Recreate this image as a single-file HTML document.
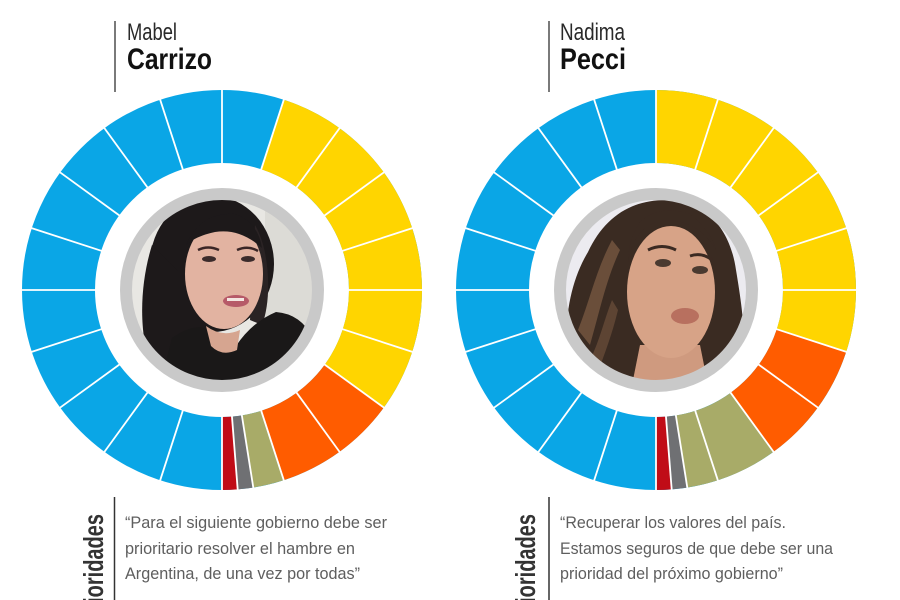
<!DOCTYPE html>
<html>
<head>
<meta charset="utf-8">
<style>
html,body{margin:0;padding:0;background:#fff;}
svg{display:block;}
text{font-family:"Liberation Sans",sans-serif;}
</style>
</head>
<body>
<svg width="900" height="600" viewBox="0 0 900 600" xmlns="http://www.w3.org/2000/svg">
<rect width="900" height="600" fill="#fff"/>
<defs>
  <clipPath id="cl"><circle cx="222" cy="290" r="91"/></clipPath>
  <clipPath id="cr"><circle cx="656" cy="290" r="91"/></clipPath>
</defs>

<!-- ============ LEFT DONUT ============ -->
<g transform="rotate(-90 222 290)" fill="none" stroke-width="73">
  <circle cx="222" cy="290" r="163.5" stroke="#0AA6E6"/>
  <circle cx="222" cy="290" r="163.5" stroke="#FFD500" stroke-dasharray="308.190 1027.301" stroke-dashoffset="-51.365"/>
  <circle cx="222" cy="290" r="163.5" stroke="#FF5C00" stroke-dasharray="102.730 1027.301" stroke-dashoffset="-359.555"/>
  <circle cx="222" cy="290" r="163.5" stroke="#A8AB68" stroke-dasharray="25.683 1027.301" stroke-dashoffset="-462.285"/>
  <circle cx="222" cy="290" r="163.5" stroke="#6F7073" stroke-dasharray="12.841 1027.301" stroke-dashoffset="-487.968"/>
  <circle cx="222" cy="290" r="163.5" stroke="#C00C17" stroke-dasharray="12.841 1027.301" stroke-dashoffset="-500.809"/>
</g>
<g transform="translate(222 290)" stroke="#fff" stroke-width="1.8">
  <line x1="0" y1="-124" x2="0" y2="-203" transform="rotate(0)"/>
  <line x1="0" y1="-124" x2="0" y2="-203" transform="rotate(18)"/>
  <line x1="0" y1="-124" x2="0" y2="-203" transform="rotate(36)"/>
  <line x1="0" y1="-124" x2="0" y2="-203" transform="rotate(54)"/>
  <line x1="0" y1="-124" x2="0" y2="-203" transform="rotate(72)"/>
  <line x1="0" y1="-124" x2="0" y2="-203" transform="rotate(90)"/>
  <line x1="0" y1="-124" x2="0" y2="-203" transform="rotate(108)"/>
  <line x1="0" y1="-124" x2="0" y2="-203" transform="rotate(126)"/>
  <line x1="0" y1="-124" x2="0" y2="-203" transform="rotate(144)"/>
  <line x1="0" y1="-124" x2="0" y2="-203" transform="rotate(162)"/>
  <line x1="0" y1="-124" x2="0" y2="-203" transform="rotate(171)"/>
  <line x1="0" y1="-124" x2="0" y2="-203" transform="rotate(175.5)"/>
  <line x1="0" y1="-124" x2="0" y2="-203" transform="rotate(180)"/>
  <line x1="0" y1="-124" x2="0" y2="-203" transform="rotate(198)"/>
  <line x1="0" y1="-124" x2="0" y2="-203" transform="rotate(216)"/>
  <line x1="0" y1="-124" x2="0" y2="-203" transform="rotate(234)"/>
  <line x1="0" y1="-124" x2="0" y2="-203" transform="rotate(252)"/>
  <line x1="0" y1="-124" x2="0" y2="-203" transform="rotate(270)"/>
  <line x1="0" y1="-124" x2="0" y2="-203" transform="rotate(288)"/>
  <line x1="0" y1="-124" x2="0" y2="-203" transform="rotate(306)"/>
  <line x1="0" y1="-124" x2="0" y2="-203" transform="rotate(324)"/>
  <line x1="0" y1="-124" x2="0" y2="-203" transform="rotate(342)"/>
</g>

<!-- left photo -->
<g clip-path="url(#cl)">
  <rect x="120" y="190" width="210" height="200" fill="#e8e7e3"/>
  <rect x="265" y="190" width="60" height="200" fill="#dcdbd6"/>
  <ellipse cx="212" cy="264" rx="62" ry="68" fill="#1d191a"/>
  <path d="M152,245 C138,290 138,345 158,385 L218,385 L208,300 Z" fill="#1d191a"/>
  <path d="M255,225 C270,250 272,300 262,325 L250,320 Z" fill="#2a2324"/>
  <path d="M160,385 L172,338 Q198,320 214,332 L236,346 Q252,322 276,312 Q302,314 314,340 L316,385 Z" fill="#1a1818"/>
  <ellipse cx="224" cy="274" rx="39" ry="55" fill="#e2b3a1"/>
  <path d="M186,245 Q200,212 235,214 Q258,222 262,248 Q240,228 215,232 Q196,236 186,245 Z" fill="#1d191a"/>
  <path d="M206,326 Q222,338 240,330 L237,350 Q222,357 211,346 Z" fill="#d6a590"/>
  <path d="M198,250 Q208,245 219,250" stroke="#3a2626" stroke-width="2.5" fill="none"/>
  <path d="M237,250 Q248,245 258,251" stroke="#3a2626" stroke-width="2.5" fill="none"/>
  <ellipse cx="209" cy="259" rx="7" ry="3" fill="#3b2b2b"/>
  <ellipse cx="248" cy="259" rx="7" ry="3" fill="#3b2b2b"/>
  <ellipse cx="236" cy="301" rx="13" ry="6" fill="#b65a68"/>
  <rect x="227" y="298" width="17" height="3" fill="#f3e6e0"/>
</g>
<circle cx="222" cy="290" r="96" fill="none" stroke="#c9c9c9" stroke-width="12"/>

<!-- ============ RIGHT DONUT ============ -->
<g transform="rotate(-90 656 290)" fill="none" stroke-width="73">
  <circle cx="656" cy="290" r="163.5" stroke="#0AA6E6"/>
  <circle cx="656" cy="290" r="163.5" stroke="#FFD500" stroke-dasharray="308.190 1027.301" stroke-dashoffset="0"/>
  <circle cx="656" cy="290" r="163.5" stroke="#FF5C00" stroke-dasharray="102.730 1027.301" stroke-dashoffset="-308.190"/>
  <circle cx="656" cy="290" r="163.5" stroke="#A8AB68" stroke-dasharray="77.048 1027.301" stroke-dashoffset="-410.920"/>
  <circle cx="656" cy="290" r="163.5" stroke="#6F7073" stroke-dasharray="12.841 1027.301" stroke-dashoffset="-487.968"/>
  <circle cx="656" cy="290" r="163.5" stroke="#C00C17" stroke-dasharray="12.841 1027.301" stroke-dashoffset="-500.809"/>
</g>
<g transform="translate(656 290)" stroke="#fff" stroke-width="1.8">
  <line x1="0" y1="-124" x2="0" y2="-203" transform="rotate(0)"/>
  <line x1="0" y1="-124" x2="0" y2="-203" transform="rotate(18)"/>
  <line x1="0" y1="-124" x2="0" y2="-203" transform="rotate(36)"/>
  <line x1="0" y1="-124" x2="0" y2="-203" transform="rotate(54)"/>
  <line x1="0" y1="-124" x2="0" y2="-203" transform="rotate(72)"/>
  <line x1="0" y1="-124" x2="0" y2="-203" transform="rotate(90)"/>
  <line x1="0" y1="-124" x2="0" y2="-203" transform="rotate(108)"/>
  <line x1="0" y1="-124" x2="0" y2="-203" transform="rotate(126)"/>
  <line x1="0" y1="-124" x2="0" y2="-203" transform="rotate(144)"/>
  <line x1="0" y1="-124" x2="0" y2="-203" transform="rotate(162)"/>
  <line x1="0" y1="-124" x2="0" y2="-203" transform="rotate(171)"/>
  <line x1="0" y1="-124" x2="0" y2="-203" transform="rotate(175.5)"/>
  <line x1="0" y1="-124" x2="0" y2="-203" transform="rotate(180)"/>
  <line x1="0" y1="-124" x2="0" y2="-203" transform="rotate(198)"/>
  <line x1="0" y1="-124" x2="0" y2="-203" transform="rotate(216)"/>
  <line x1="0" y1="-124" x2="0" y2="-203" transform="rotate(234)"/>
  <line x1="0" y1="-124" x2="0" y2="-203" transform="rotate(252)"/>
  <line x1="0" y1="-124" x2="0" y2="-203" transform="rotate(270)"/>
  <line x1="0" y1="-124" x2="0" y2="-203" transform="rotate(288)"/>
  <line x1="0" y1="-124" x2="0" y2="-203" transform="rotate(306)"/>
  <line x1="0" y1="-124" x2="0" y2="-203" transform="rotate(324)"/>
  <line x1="0" y1="-124" x2="0" y2="-203" transform="rotate(342)"/>
</g>

<!-- right photo -->
<g clip-path="url(#cr)">
  <rect x="555" y="190" width="210" height="200" fill="#ecebf0"/>
  <path d="M572,385 C560,335 568,285 588,252 C604,218 630,200 666,200 C706,201 730,228 736,270 C744,318 748,352 738,385 Z" fill="#3a2b22"/>
  <path d="M578,330 C590,300 596,270 612,240 L620,250 C606,280 600,310 590,345 Z" fill="#6a4e3a"/>
  <path d="M590,360 C600,340 604,320 612,300 L618,310 C612,335 604,355 598,372 Z" fill="#5d4433"/>
  <path d="M640,345 L700,345 L708,385 L632,385 Z" fill="#cf9a7f"/>
  <ellipse cx="671" cy="292" rx="44" ry="66" fill="#d7a387"/>
  <path d="M628,262 Q635,222 668,220 Q700,222 716,250 Q712,232 690,214 Q660,204 640,222 Q628,240 628,262 Z" fill="#3a2b22"/>
  <path d="M648,250 Q662,243 676,250" stroke="#3b2a22" stroke-width="3" fill="none"/>
  <path d="M690,256 Q702,252 712,260" stroke="#3b2a22" stroke-width="3" fill="none"/>
  <ellipse cx="663" cy="263" rx="8" ry="4" fill="#4a3a30"/>
  <ellipse cx="700" cy="270" rx="8" ry="4" fill="#4a3a30"/>
  <ellipse cx="685" cy="316" rx="14" ry="8" fill="#b8705f"/>
</g>
<circle cx="656" cy="290" r="96" fill="none" stroke="#c9c9c9" stroke-width="12"/>

<!-- ============ TITLES ============ -->
<line x1="115" y1="21" x2="115" y2="92" stroke="#333" stroke-width="1.3"/>
<text x="127" y="40" font-size="24" fill="#2a2a2a" textLength="50" lengthAdjust="spacingAndGlyphs">Mabel</text>
<text x="127" y="69" font-size="30" font-weight="bold" fill="#111" textLength="85" lengthAdjust="spacingAndGlyphs">Carrizo</text>

<line x1="549" y1="21" x2="549" y2="92" stroke="#333" stroke-width="1.3"/>
<text x="560" y="40" font-size="24" fill="#2a2a2a" textLength="65" lengthAdjust="spacingAndGlyphs">Nadima</text>
<text x="560" y="69" font-size="30" font-weight="bold" fill="#111" textLength="66" lengthAdjust="spacingAndGlyphs">Pecci</text>

<!-- ============ BOTTOM ============ -->
<line x1="114.5" y1="497" x2="114.5" y2="600" stroke="#333" stroke-width="1.5"/>
<text transform="translate(103 514) rotate(-90)" x="0" y="0" text-anchor="end" font-size="28" font-weight="bold" fill="#333" textLength="110" lengthAdjust="spacingAndGlyphs">Prioridades</text>
<g font-size="17" fill="#5e5e5e">
  <text x="125" y="528" textLength="262" lengthAdjust="spacingAndGlyphs">“Para el siguiente gobierno debe ser</text>
  <text x="125" y="554" textLength="230" lengthAdjust="spacingAndGlyphs">prioritario resolver el hambre en</text>
  <text x="125" y="579" textLength="235" lengthAdjust="spacingAndGlyphs">Argentina, de una vez por todas”</text>
</g>

<line x1="549" y1="497" x2="549" y2="600" stroke="#333" stroke-width="1.5"/>
<text transform="translate(535 514) rotate(-90)" x="0" y="0" text-anchor="end" font-size="28" font-weight="bold" fill="#333" textLength="110" lengthAdjust="spacingAndGlyphs">Prioridades</text>
<g font-size="17" fill="#5e5e5e">
  <text x="560" y="528" textLength="226" lengthAdjust="spacingAndGlyphs">“Recuperar los valores del país.</text>
  <text x="560" y="554" textLength="273" lengthAdjust="spacingAndGlyphs">Estamos seguros de que debe ser una</text>
  <text x="560" y="579" textLength="223" lengthAdjust="spacingAndGlyphs">prioridad del próximo gobierno”</text>
</g>
</svg>
</body>
</html>
